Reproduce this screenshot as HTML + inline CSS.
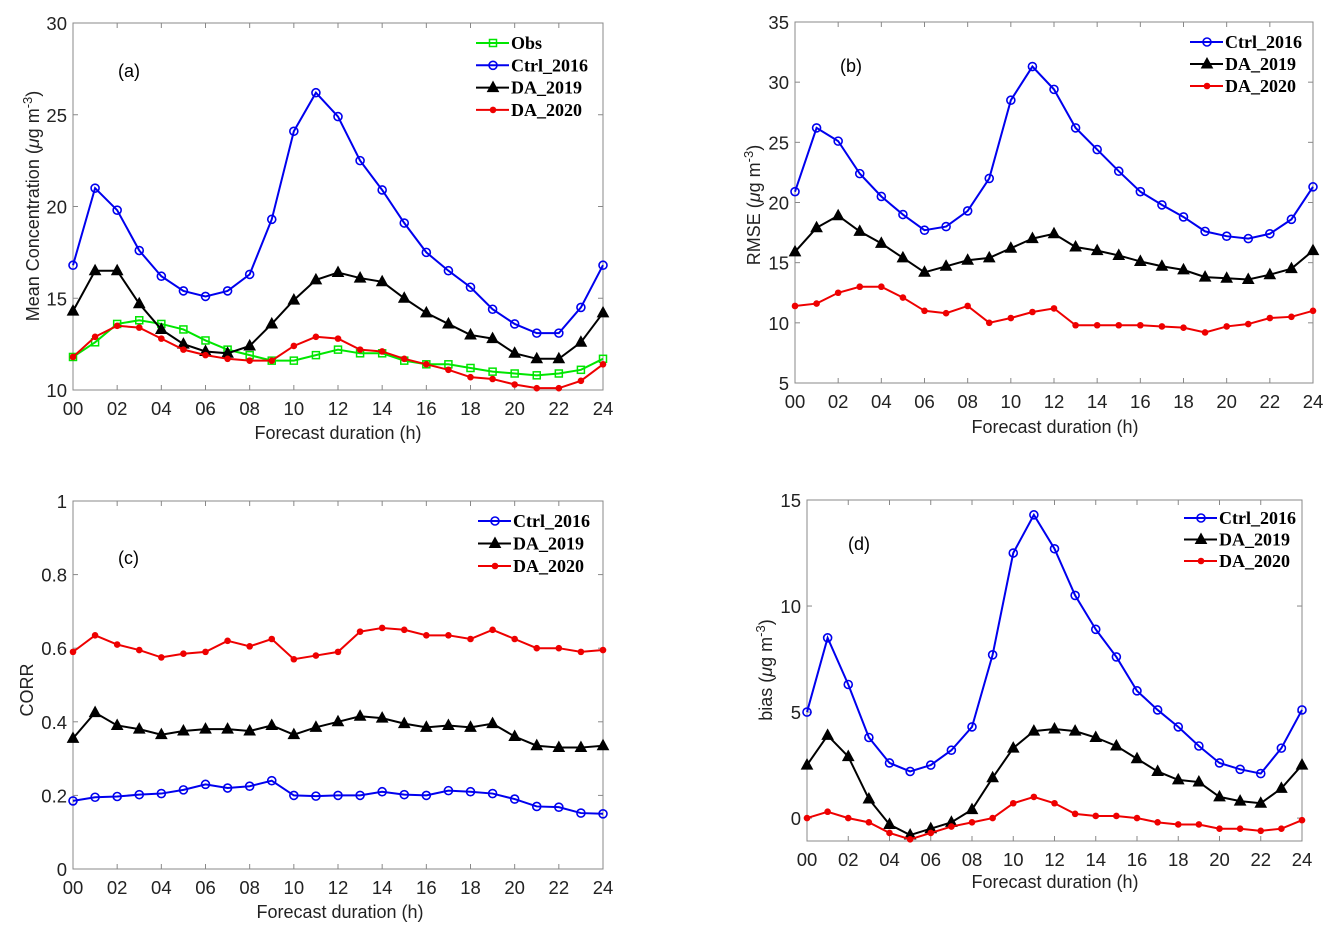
<!DOCTYPE html>
<html><head><meta charset="utf-8"><style>
body{margin:0;background:#fff;}
svg{display:block;font-family:"Liberation Sans",sans-serif;}
.leg{font-family:"Liberation Serif",serif;font-weight:bold;font-size:18px;}
</style></head><body>
<svg id="fig" width="1337" height="935" viewBox="0 0 1337 935"></svg>
<script>
const hours=[0,1,2,3,4,5,6,7,8,9,10,11,12,13,14,15,16,17,18,19,20,21,22,23,24];
const xTickLabels=["00","02","04","06","08","10","12","14","16","18","20","22","24"];
const aObs=[11.8,12.6,13.6,13.8,13.6,13.3,12.7,12.2,11.9,11.6,11.6,11.9,12.2,12.0,12.0,11.6,11.4,11.4,11.2,11.0,10.9,10.8,10.9,11.1,11.7];
const aCtrl=[16.8,21.0,19.8,17.6,16.2,15.4,15.1,15.4,16.3,19.3,24.1,26.2,24.9,22.5,20.9,19.1,17.5,16.5,15.6,14.4,13.6,13.1,13.1,14.5,16.8];
const aDA19=[14.3,16.5,16.5,14.7,13.3,12.5,12.1,12.0,12.4,13.6,14.9,16.0,16.4,16.1,15.9,15.0,14.2,13.6,13.0,12.8,12.0,11.7,11.7,12.6,14.2];
const aDA20=[11.8,12.9,13.5,13.4,12.8,12.2,11.9,11.7,11.6,11.6,12.4,12.9,12.8,12.2,12.1,11.7,11.4,11.1,10.7,10.6,10.3,10.1,10.1,10.5,11.4];
const bCtrl=[20.9,26.2,25.1,22.4,20.5,19.0,17.7,18.0,19.3,22.0,28.5,31.3,29.4,26.2,24.4,22.6,20.9,19.8,18.8,17.6,17.2,17.0,17.4,18.6,21.3];
const bDA19=[15.9,17.9,18.9,17.6,16.6,15.4,14.2,14.7,15.2,15.4,16.2,17.0,17.4,16.3,16.0,15.6,15.1,14.7,14.4,13.8,13.7,13.6,14.0,14.5,16.0];
const bDA20=[11.4,11.6,12.5,13.0,13.0,12.1,11.0,10.8,11.4,10.0,10.4,10.9,11.2,9.8,9.8,9.8,9.8,9.7,9.6,9.2,9.7,9.9,10.4,10.5,11.0];
const cCtrl=[0.185,0.195,0.197,0.202,0.205,0.215,0.23,0.22,0.225,0.24,0.2,0.198,0.2,0.2,0.21,0.202,0.2,0.213,0.21,0.205,0.19,0.17,0.168,0.152,0.15];
const cDA19=[0.355,0.425,0.39,0.38,0.365,0.375,0.38,0.38,0.375,0.39,0.365,0.385,0.40,0.415,0.41,0.395,0.385,0.39,0.385,0.395,0.36,0.335,0.33,0.33,0.335];
const cDA20=[0.59,0.635,0.61,0.595,0.575,0.585,0.59,0.62,0.605,0.625,0.57,0.58,0.59,0.645,0.655,0.65,0.635,0.635,0.625,0.65,0.625,0.6,0.6,0.59,0.595];
const dCtrl=[5.0,8.5,6.3,3.8,2.6,2.2,2.5,3.2,4.3,7.7,12.5,14.3,12.7,10.5,8.9,7.6,6.0,5.1,4.3,3.4,2.6,2.3,2.1,3.3,5.1];
const dDA19=[2.5,3.9,2.9,0.9,-0.3,-0.8,-0.5,-0.2,0.4,1.9,3.3,4.1,4.2,4.1,3.8,3.4,2.8,2.2,1.8,1.7,1.0,0.8,0.7,1.4,2.5];
const dDA20=[0,0.3,0,-0.2,-0.7,-1.0,-0.7,-0.4,-0.2,0,0.7,1.0,0.7,0.2,0.1,0.1,0,-0.2,-0.3,-0.3,-0.5,-0.5,-0.6,-0.5,-0.1];
const aYTicks=[10,15,20,25,30];
const bYTicks=[5,10,15,20,25,30,35];
const cYTicks=[0,0.2,0.4,0.6,0.8,1];
const cYTickLabels=["0","0.2","0.4","0.6","0.8","1"];
const dYTicks=[0,5,10,15];

const NS="http://www.w3.org/2000/svg";
const svg=document.getElementById('fig');
function mk(tag,attrs,parent,text){const e=document.createElementNS(NS,tag);for(const k in attrs)e.setAttribute(k,attrs[k]);if(text!==undefined)e.textContent=text;(parent||svg).appendChild(e);return e;}
const styles={
 obs:{c:"#00e600",m:"sq"},ctrl:{c:"#0000ee",m:"circ"},da19:{c:"#000",m:"tri"},da20:{c:"#ee0000",m:"dot"}
};
function marker(g,type,x,y,c){
 let e;
 if(type==="sq")e=mk('rect',{x:x-3.5,y:y-3.5,width:7,height:7,fill:"none",stroke:c,"stroke-width":1.5},g);
 else if(type==="circ")e=mk('circle',{cx:x,cy:y,r:4,fill:"none",stroke:c,"stroke-width":1.6},g);
 else if(type==="tri")e=mk('polygon',{points:`${x},${y-6} ${x-5.5},${y+4} ${x+5.5},${y+4}`,fill:c,stroke:c,"stroke-width":1},g);
 else e=mk('circle',{cx:x,cy:y,r:3.3,fill:c},g);
 return e;
}
function panel(p){
 const g=mk('g',{});
 
 
 const X=v=>p.x0+(v-0)/24*(p.x1-p.x0);
 const Y=v=>p.yb-(v-p.ymin)/(p.ymax-p.ymin)*(p.yb-p.yt);
 const box=mk('rect',{x:p.x0,y:p.yt,width:p.x1-p.x0,height:p.yb-p.yt,fill:"none",stroke:"#888","stroke-width":1},g);
 
 
 xTickLabels.forEach((lab,i)=>{const v=i*2,x=X(v);
  mk('line',{x1:x,x2:x,y1:p.yb,y2:p.yb-5,stroke:"#888"},g);
  mk('line',{x1:x,x2:x,y1:p.yt,y2:p.yt+5,stroke:"#888"},g);
  const t=mk('text',{x:x,y:p.yb+25,"text-anchor":"middle","font-size":18.5,fill:"#222"},g,lab);
  
  
 });
 p.yticks.forEach((v,i)=>{const y=Y(v);
  mk('line',{x1:p.x0,x2:p.x0+5,y1:y,y2:y,stroke:"#888"},g);
  mk('line',{x1:p.x1,x2:p.x1-5,y1:y,y2:y,stroke:"#888"},g);
  const t=mk('text',{x:p.x0-6,y:y+7,"text-anchor":"end","font-size":18.5,fill:"#222"},g,p.ylabels?p.ylabels[i]:String(v));
  
  
 });
 const xt=mk('text',{x:p.xlx,y:p.xly,"text-anchor":"middle","font-size":18,fill:"#222"},g,p.xtitle);
 
 
 const yt=mk('text',{x:0,y:0,"text-anchor":"middle","font-size":18,fill:"#222",transform:`translate(${p.ylx},${p.yly}) rotate(-90)`},g);
 
 
 if(p.unit){yt.appendChild(document.createTextNode(p.ytitle+" ("));
  mk('tspan',{"font-style":"italic"},yt,"μ");
  yt.appendChild(document.createTextNode("g m"));
  mk('tspan',{dy:-7,"font-size":13},yt,"-3");
  mk('tspan',{dy:7},yt,")");
 } else yt.textContent=p.ytitle;
 const pl=mk('text',{x:p.plx,y:p.ply,"font-size":18,fill:"#000"},g,p.tag);
 
 
 p.series.forEach((s,k)=>{
  const st=styles[s.key];
  const sg=mk('g',{},g);
  
  
  const pts=s.data.map((v,i)=>X(hours[i])+","+Y(v)).join(" ");
  mk('polyline',{points:pts,fill:"none",stroke:st.c,"stroke-width":2},sg);
  s.data.forEach((v,i)=>marker(sg,st.m,X(hours[i]),Y(v),st.c));
  const ly=p.legy+k*p.legdy;
  const lg=mk('g',{},g);
  
  
  mk('line',{x1:p.legx,x2:p.legx+33,y1:ly,y2:ly,stroke:st.c,"stroke-width":2},lg);
  marker(lg,st.m,p.legx+17,ly,st.c);
  mk('text',{x:p.legx+35,y:ly+6,class:"leg",fill:"#000"},lg,s.name);
 });
}
panel({id:"a",tag:"(a)",x0:73,x1:603,yt:23,yb:390,ymin:10,ymax:30,yticks:aYTicks,xtitle:"Forecast duration (h)",xlx:338,xly:439,ytitle:"Mean Concentration",unit:true,ylx:39,yly:206,plx:118,ply:77,legx:476,legy:43,legdy:22.3,
 series:[{key:"obs",name:"Obs",data:aObs},{key:"ctrl",name:"Ctrl_2016",data:aCtrl},{key:"da19",name:"DA_2019",data:aDA19},{key:"da20",name:"DA_2020",data:aDA20}]});
panel({id:"b",tag:"(b)",x0:795,x1:1313,yt:22,yb:383,ymin:5,ymax:35,yticks:bYTicks,xtitle:"Forecast duration (h)",xlx:1055,xly:433,ytitle:"RMSE",unit:true,ylx:760,yly:205,plx:840,ply:72,legx:1190,legy:42,legdy:22,
 series:[{key:"ctrl",name:"Ctrl_2016",data:bCtrl},{key:"da19",name:"DA_2019",data:bDA19},{key:"da20",name:"DA_2020",data:bDA20}]});
panel({id:"c",tag:"(c)",x0:73,x1:603,yt:501,yb:869,ymin:0,ymax:1,yticks:cYTicks,ylabels:cYTickLabels,xtitle:"Forecast  duration (h)",xlx:340,xly:918,ytitle:"CORR",unit:false,ylx:33,yly:690,plx:118,ply:564,legx:478,legy:521,legdy:22.5,
 series:[{key:"ctrl",name:"Ctrl_2016",data:cCtrl},{key:"da19",name:"DA_2019",data:cDA19},{key:"da20",name:"DA_2020",data:cDA20}]});
panel({id:"d",tag:"(d)",x0:807,x1:1302,yt:500,yb:841,ymin:-1.08,ymax:15,yticks:dYTicks,xtitle:"Forecast duration (h)",xlx:1055,xly:888,ytitle:"bias",unit:true,ylx:772,yly:670,plx:848,ply:550,legx:1184,legy:518,legdy:21.5,
 series:[{key:"ctrl",name:"Ctrl_2016",data:dCtrl},{key:"da19",name:"DA_2019",data:dDA19},{key:"da20",name:"DA_2020",data:dDA20}]});
</script>
</body></html>
